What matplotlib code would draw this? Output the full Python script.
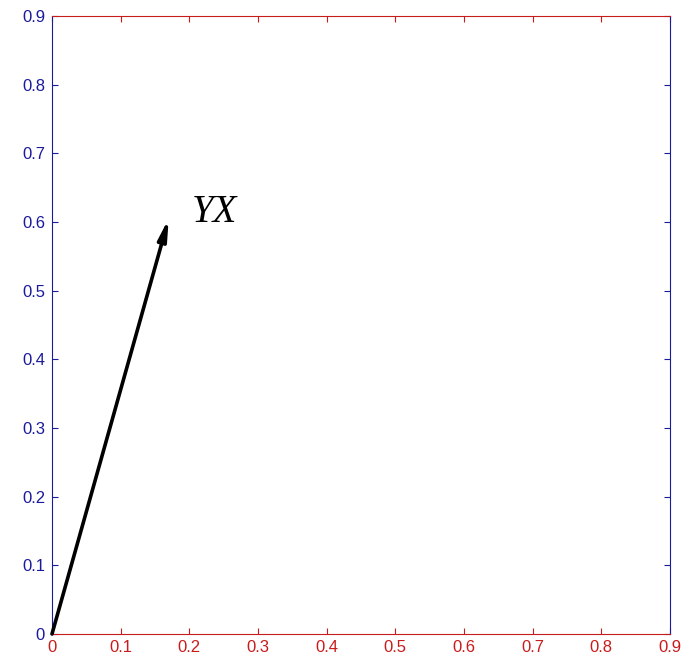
import numpy as np
import matplotlib.pyplot as plt

plt.rcParams['font.family'] = ['Liberation Sans', 'DejaVu Sans']

# vector from the origin and its label
vec_x = [0.0, 0.17]
vec_y = [0.0, 0.605]
label = 'YX'
label_pos = (0.204, 0.614)

ticks = np.round(np.arange(0, 0.91, 0.1), 1)
tick_labels = ['0', '0.1', '0.2', '0.3', '0.4', '0.5', '0.6', '0.7', '0.8', '0.9']

red = '#c81c1c'
blue = '#1a1a9c'

fig = plt.figure(figsize=(6.94, 6.59), dpi=100)
ax = fig.add_axes([0.0749, 0.0379, 0.8905, 0.9378])

ax.annotate('', xy=(vec_x[1], vec_y[1]), xytext=(vec_x[0], vec_y[0]),
            arrowprops=dict(arrowstyle='-|>,head_length=1.2,head_width=0.25',
                            color='black', lw=2.6, shrinkA=0, shrinkB=0))
ax.text(label_pos[0], label_pos[1], label, fontsize=28, style='italic',
        family='Liberation Serif', va='center', ha='left')

ax.set_xlim(0, 0.9)
ax.set_ylim(0, 0.9)
ax.set_xticks(ticks)
ax.set_xticklabels(tick_labels)
ax.set_yticks(ticks)
ax.set_yticklabels(tick_labels)

ax.tick_params(axis='x', direction='in', top=True, colors=red, labelsize=12, length=4, pad=4)
ax.tick_params(axis='y', direction='in', right=True, colors=blue, labelsize=12, length=4, pad=5)
for side in ('bottom', 'top'):
    ax.spines[side].set_color(red)
for side in ('left', 'right'):
    ax.spines[side].set_color(blue)

fig.savefig('out.png')
